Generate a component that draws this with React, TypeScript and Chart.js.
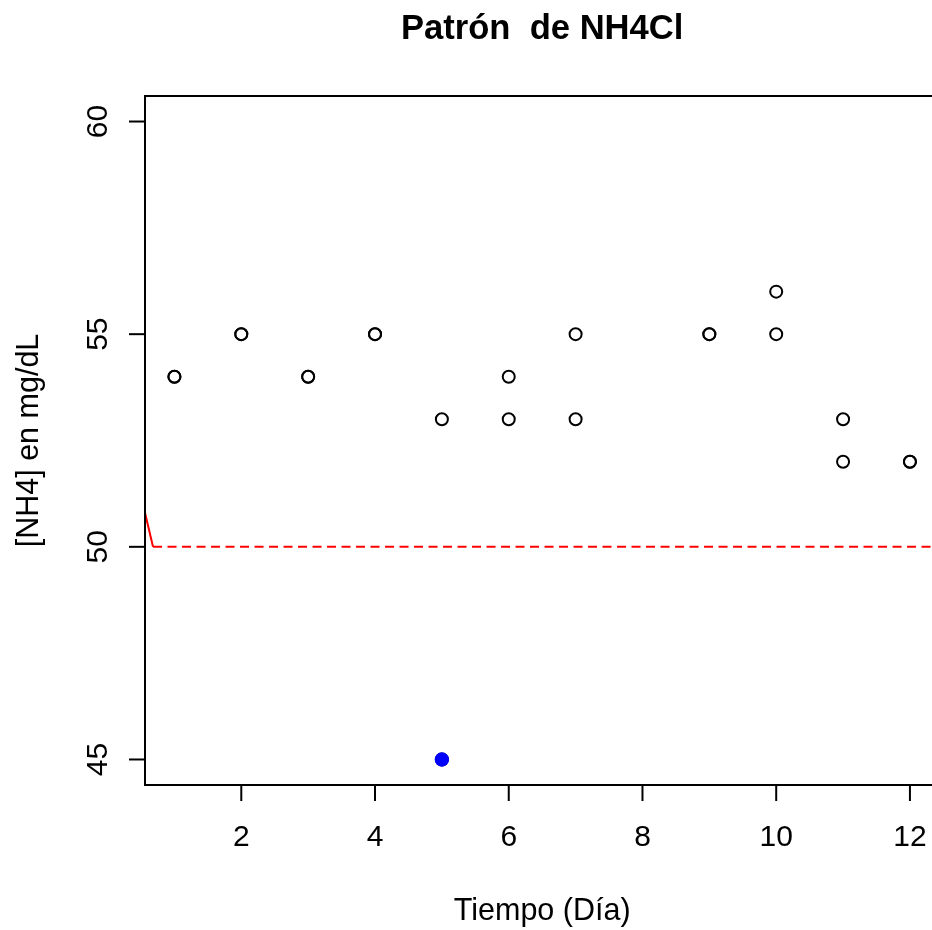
import React, { useEffect, useRef } from "react";
import { Chart, registerables } from "chart.js";

Chart.register(...registerables);

const days = [1, 1, 2, 2, 3, 3, 4, 4, 5, 5, 6, 6, 7, 7, 9, 9, 10, 10, 11, 11, 12, 12];
const values = [54, 54, 55, 55, 54, 54, 55, 55, 53, 45, 54, 53, 55, 53, 55, 55, 56, 55, 53, 52, 52, 52];
const outlierDay = [5];
const outlierValue = [45];
const refLineX = [0.68, 13];
const refLineY = [50, 50];
const slopeX = [0.56, 0.68];
const slopeY = [50.8, 50];
const xTicks = [2, 4, 6, 8, 10, 12];
const yTicks = [45, 50, 55, 60];
const titleText = "Patrón  de NH4Cl";
const xLabel = "Tiempo (Día)";
const yLabel = "[NH4] en mg/dL";

const FONT = "'Liberation Sans', Arial, sans-serif";

const axesPlugin = {
  id: "rAxes",
  afterDraw(chart: any) {
    const ctx = chart.ctx as CanvasRenderingContext2D;
    const { left, top, bottom } = chart.chartArea;
    const xs = chart.scales.x;
    const ys = chart.scales.y;
    ctx.save();
    ctx.strokeStyle = "#000";
    ctx.lineWidth = 2;
    ctx.beginPath();
    ctx.rect(left, top, chart.width + 20 - left, bottom - top);
    ctx.stroke();
    ctx.fillStyle = "#000";
    ctx.font = `30px ${FONT}`;
    // x ticks
    ctx.textAlign = "center";
    ctx.textBaseline = "middle";
    for (const t of xTicks) {
      const px = xs.getPixelForValue(t);
      ctx.beginPath();
      ctx.moveTo(px, bottom);
      ctx.lineTo(px, bottom + 16);
      ctx.stroke();
      ctx.fillText(String(t), px, 838);
    }
    // y ticks
    for (const t of yTicks) {
      const py = ys.getPixelForValue(t);
      ctx.beginPath();
      ctx.moveTo(left, py);
      ctx.lineTo(left - 16, py);
      ctx.stroke();
      ctx.save();
      ctx.translate(99, py);
      ctx.rotate(-Math.PI / 2);
      ctx.fillText(String(t), 0, 0);
      ctx.restore();
    }
    const cx = (left + xs.getPixelForValue(12.44)) / 2;
    // x label
    ctx.font = `30.5px ${FONT}`;
    ctx.fillText(xLabel, cx, 912);
    // y label
    ctx.save();
    ctx.translate(30, (top + bottom) / 2);
    ctx.rotate(-Math.PI / 2);
    ctx.fillText(yLabel, 0, 0);
    ctx.restore();
    // title
    ctx.font = `bold 34.6px ${FONT}`;
    ctx.fillText(titleText, cx, 29);
    ctx.restore();
  },
};

export default function App() {
  const ref = useRef<HTMLCanvasElement>(null);
  useEffect(() => {
    document.body.style.margin = "0";
    const chart = new Chart(ref.current!, {
      type: "scatter",
      data: {
        datasets: [
          {
            type: "line",
            data: slopeX.map((x, i) => ({ x, y: slopeY[i] })),
            borderColor: "#ff0000",
            borderWidth: 2,
            pointRadius: 0,
            showLine: true,
            order: 3,
          } as any,
          {
            type: "line",
            data: refLineX.map((x, i) => ({ x, y: refLineY[i] })),
            borderColor: "#ff0000",
            borderWidth: 2,
            borderDash: [9, 5.5],
            pointRadius: 0,
            showLine: true,
            order: 2,
          } as any,
          {
            data: days.map((x, i) => ({ x, y: values[i] })),
            pointStyle: "circle",
            pointRadius: 6,
            borderColor: "#000",
            borderWidth: 2,
            backgroundColor: "rgba(0,0,0,0)",
            order: 1,
          },
          {
            data: outlierDay.map((x, i) => ({ x, y: outlierValue[i] })),
            pointStyle: "circle",
            pointRadius: 6.2,
            borderColor: "#0000ff",
            borderWidth: 2,
            backgroundColor: "#0000ff",
            order: 0,
          },
        ],
      },
      options: {
        animation: false,
        responsive: false,
        devicePixelRatio: 1,
        layout: { autoPadding: false, padding: { left: 145, top: 96, right: 0, bottom: 145 } },
        plugins: { legend: { display: false }, tooltip: { enabled: false }, title: { display: false } },
        scales: {
          x: { type: "linear", min: 0.56, max: 12.33, display: false },
          y: { type: "linear", min: 44.4, max: 60.6, display: false },
        },
      },
      plugins: [axesPlugin],
    });
    return () => chart.destroy();
  }, []);
  return (
    <div style={{ position: "fixed", left: 0, top: 0, width: 932, height: 930, background: "#fff" }}>
      <canvas ref={ref} width={932} height={930} style={{ width: 932, height: 930 }} />
    </div>
  );
}
